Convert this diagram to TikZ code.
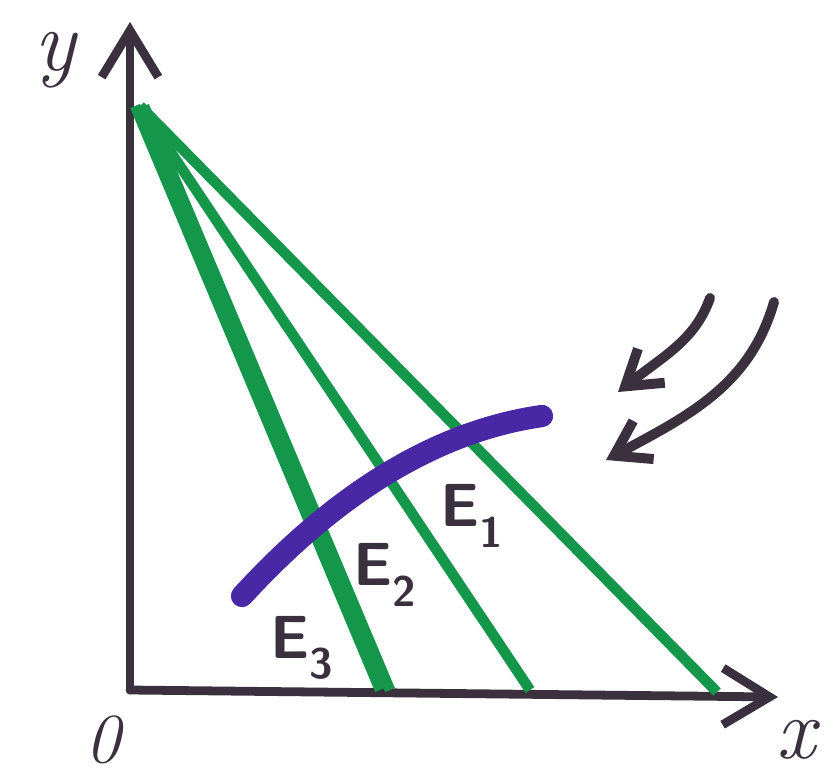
\documentclass[tikz,border=0pt]{standalone}
\usepackage{xcolor}
\usepackage{tikz}
\usetikzlibrary{arrows.meta,positioning,calc}
\definecolor{axisgray}{RGB}{58,48,62}
\definecolor{raygreen}{RGB}{20,150,75}
\definecolor{frontblue}{RGB}{72,40,165}

\begin{document}
\begin{tikzpicture}[x=0.03cm,y=-0.03cm,>=Latex,every node/.style={text=axisgray}]
\tikzstyle{axis}=[draw=axisgray,line width=7.5pt,line cap=round,-{Straight Barb[length=14mm,width=17mm,line width=7.5pt]}]
\tikzstyle{ray}=[draw=raygreen,line width=9pt]
\tikzstyle{front}=[draw=frontblue,line width=19pt,line cap=round]
\tikzstyle{flow}=[draw=axisgray,line width=8.5pt,line cap=round,-{Straight Barb[length=10mm,width=13mm,line width=8.5pt]}]
\tikzstyle{lbl}=[font=\fontsize{52}{60}\selectfont\sffamily\bfseries]
\tikzstyle{axlbl}=[font=\fontsize{74}{84}\selectfont\itshape,inner sep=0pt]
\useasboundingbox (0,0) rectangle (833,775);
% axes
\coordinate (O) at (130,690);
\coordinate (ytip) at (130,22);
\coordinate (xtip) at (778,697);
\draw[axis] (O) -- (ytip);
\draw[axis] (O) -- (xtip);
\node[axlbl] (ylab) at (55,60) {y};
\node[axlbl] (xlab) at (796,740) {x};
\node[axlbl,font=\fontsize{60}{66}\selectfont\itshape] (olab) at (103,740) {0};
% rays
\coordinate (apex) at (140,106);
\coordinate (e3a) at (380,690);
\coordinate (e3b) at (390,690);
\coordinate (e2) at (530,690);
\coordinate (e1) at (717,692);
\draw[ray] ($(apex)+(-5,0)$) -- (e3a);
\draw[ray] ($(apex)+(4,0)$) -- (e3b);
\draw[ray] (apex) -- (e2);
\draw[ray] (apex) -- (e1);
% front
\coordinate (fa) at (242,596);
\coordinate (fb) at (542,416);
\draw[front] (fa) .. controls (330,500) and (430,432) .. (fb);
% labels
\node[lbl] (E1) at (472,516) {E\textsubscript{1}};
\node[lbl] (E2) at (385,575) {E\textsubscript{2}};
\node[lbl] (E3) at (302,648) {E\textsubscript{3}};
% incoming arrows
\coordinate (a1s) at (710,298);
\coordinate (a1e) at (618,392);
\coordinate (a2s) at (774,302);
\coordinate (a2e) at (606,460);
\draw[flow] (a1s) .. controls (695,340) and (665,355) .. (a1e);
\draw[flow] (a2s) .. controls (750,385) and (690,415) .. (a2e);
\end{tikzpicture}
\end{document}
